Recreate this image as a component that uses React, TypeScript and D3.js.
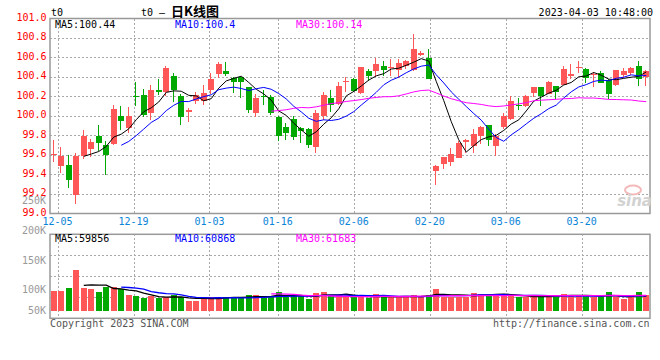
import React, { useEffect, useRef } from 'react';
import * as d3 from 'd3';

// trading days shown on the chart (80 candles)
const dates = [
  '12-02', '12-05', '12-06', '12-07', '12-08', '12-09', '12-12', '12-13', '12-14', '12-15',
  '12-16', '12-19', '12-20', '12-21', '12-22', '12-23', '12-26', '12-27', '12-28', '12-29',
  '12-30', '01-03', '01-04', '01-05', '01-06', '01-09', '01-10', '01-11', '01-12', '01-13',
  '01-16', '01-17', '01-18', '01-19', '01-20', '01-30', '01-31', '02-01', '02-02', '02-03',
  '02-06', '02-07', '02-08', '02-09', '02-10', '02-13', '02-14', '02-15', '02-16', '02-17',
  '02-20', '02-21', '02-22', '02-23', '02-24', '02-27', '02-28', '03-01', '03-02', '03-03',
  '03-06', '03-07', '03-08', '03-09', '03-10', '03-13', '03-14', '03-15', '03-16', '03-17',
  '03-20', '03-21', '03-22', '03-23', '03-24', '03-27', '03-28', '03-29', '03-30', '03-31',
];

const opens = [
  99.60, 99.49, 99.50, 99.19, 99.59, 99.66, 99.80, 99.70, 99.71, 100.00,
  99.88, 100.20, 100.22, 100.03, 100.27, 100.25, 100.41, 100.21, 100.04, 100.15,
  100.15, 100.27, 100.43, 100.46, 100.39, 100.40, 100.30, 100.03, 100.21, 100.19,
  99.99, 99.89, 99.97, 99.88, 99.87, 99.68, 100.00, 100.18, 100.12, 100.35,
  100.38, 100.24, 100.46, 100.46, 100.51, 100.49, 100.47, 100.51, 100.47, 100.63,
  100.60, 99.44, 99.51, 99.53, 99.57, 99.73, 99.69, 99.80, 99.91, 99.69,
  99.89, 99.97, 100.11, 100.10, 100.24, 100.30, 100.23, 100.31, 100.32, 100.41,
  100.49, 100.48, 100.42, 100.44, 100.37, 100.32, 100.42, 100.44, 100.51, 100.40,
];
const highs = [
  99.75, 99.68, 99.60, 99.62, 99.86, 99.76, 99.91, 99.74, 100.11, 100.10,
  100.09, 100.35, 100.28, 100.32, 100.38, 100.51, 100.44, 100.23, 100.08, 100.25,
  100.32, 100.44, 100.55, 100.55, 100.40, 100.40, 100.30, 100.23, 100.27, 100.22,
  100.00, 99.93, 100.00, 99.89, 99.88, 100.06, 100.25, 100.27, 100.35, 100.40,
  100.39, 100.50, 100.48, 100.60, 100.56, 100.58, 100.58, 100.57, 100.84, 100.67,
  100.69, 99.50, 99.58, 99.67, 99.74, 99.76, 99.87, 99.90, 99.91, 99.82,
  100.03, 100.20, 100.18, 100.22, 100.30, 100.30, 100.36, 100.31, 100.51, 100.53,
  100.56, 100.49, 100.45, 100.46, 100.38, 100.47, 100.49, 100.50, 100.56, 100.47,
];
const lows = [
  99.53, 99.42, 99.26, 99.10, 99.56, 99.58, 99.64, 99.39, 99.70, 99.86,
  99.83, 100.10, 99.99, 99.96, 100.22, 100.20, 100.14, 99.91, 99.94, 100.12,
  100.11, 100.23, 100.39, 100.41, 100.24, 100.18, 100.03, 99.99, 100.11, 100.01,
  99.74, 99.75, 99.75, 99.72, 99.67, 99.62, 99.96, 100.04, 100.11, 100.25,
  100.25, 100.23, 100.36, 100.40, 100.41, 100.41, 100.39, 100.48, 100.46, 100.62,
  100.38, 99.29, 99.46, 99.49, 99.57, 99.62, 99.62, 99.71, 99.69, 99.59,
  99.87, 99.96, 100.06, 100.09, 100.19, 100.10, 100.23, 100.17, 100.32, 100.38,
  100.44, 100.34, 100.30, 100.34, 100.17, 100.31, 100.39, 100.42, 100.31, 100.31,
];
const closes = [
  99.61, 99.59, 99.34, 99.59, 99.80, 99.73, 99.72, 99.60, 100.07, 99.95,
  100.00, 100.19, 100.01, 100.27, 100.25, 100.49, 100.27, 99.99, 100.06, 100.22,
  100.24, 100.38, 100.53, 100.43, 100.35, 100.35, 100.06, 100.18, 100.19, 100.03,
  99.80, 99.83, 99.78, 99.85, 99.70, 100.03, 100.22, 100.11, 100.31, 100.36,
  100.26, 100.50, 100.41, 100.53, 100.47, 100.50, 100.54, 100.56, 100.69, 100.65,
  100.38, 99.49, 99.58, 99.61, 99.72, 99.75, 99.82, 99.89, 99.75, 99.80,
  100.00, 100.15, 100.10, 100.21, 100.30, 100.21, 100.35, 100.25, 100.48, 100.43,
  100.50, 100.39, 100.43, 100.34, 100.23, 100.47, 100.46, 100.49, 100.38, 100.46,
];
const volumes = [
  81200, 81200, 93300, 165200, 93300, 89300, 75900, 96000, 96200, 86800,
  63700, 59700, 51500, 59700, 50300, 54400, 62500, 54400, 40600, 40600,
  54400, 54400, 54400, 54400, 54400, 51500, 62500, 62500, 54400, 59700,
  75900, 54400, 59700, 59700, 47500, 71800, 75900, 63700, 63700, 59700,
  54400, 59700, 50300, 67800, 54400, 54400, 56800, 56800, 63700, 56800,
  63700, 88100, 56800, 56800, 56800, 56800, 71800, 67800, 67800, 67800,
  59700, 63700, 54400, 54400, 54400, 59700, 63700, 59700, 67800, 59700,
  59700, 63700, 54400, 54400, 75900, 54400, 47500, 54400, 75900, 63700,
];

const priceTicks = [101.0, 100.8, 100.6, 100.4, 100.2, 100.0, 99.8, 99.6, 99.4, 99.2, 99.0];
const volumeTicks = [250000, 200000, 150000, 100000, 50000];
const dateTicks = ['12-05', '12-19', '01-03', '01-16', '02-06', '02-20', '03-06', '03-20'];
const maPeriods = [5, 10, 30];
const maColors = ['#000000', '#0000ff', '#ff00ff'];
const priceLegend = ['MA5:100.44', 'MA10:100.4', 'MA30:100.14'];
const volumeLegend = ['MA5:59856', 'MA10:60868', 'MA30:61683'];
const symbol = 't0';
const title = '日K线图';
const timestamp = '2023-04-03 10:48:00';

const MONO = "'DejaVu Sans Mono', 'Liberation Mono', monospace";
const UP = '#ff5757';
const DOWN = '#00a800';

function movingAvg(vals: number[], n: number) {
  return vals.map((_, i) => (i < n - 1 ? null : d3.mean(vals.slice(i - n + 1, i + 1)) as number));
}

export default function App() {
  const svgRef = useRef<SVGSVGElement | null>(null);

  useEffect(() => {
    const svg = d3.select(svgRef.current);
    svg.selectAll('*').remove();

    const plotL = 50, plotR = 650;
    const mainTop = 18.5, mainBottom = 213.5;
    const volTop = 234.3, volBottom = 318.3, volBase = 310.7;
    const N = dates.length;

    const xBand = d3.scaleBand<number>().domain(d3.range(N)).range([plotL, plotR])
      .paddingInner(0.2).paddingOuter(0.1);
    const xGrid = d3.scaleLinear().domain([0, N - 1]).range([plotL, plotR]);
    const xMid = (i: number) => (xBand(i) as number) + xBand.bandwidth() / 2;
    const y = d3.scaleLinear().domain([99, 101]).range([mainBottom, mainTop]);
    const yVol = d3.scaleLinear().domain([0, 310000]).range([volBase, volTop]);
    // sina places the volume labels on their own spacing, last one pinned to the base
    const volLabelY = d3.scaleLinear().domain([50000, 250000]).range([323.1, 204.3]);

    const bw = Math.round(xBand.bandwidth());
    const isUp = (i: number) => closes[i] >= opens[i];

    // --- grid ---
    const grid = svg.append('g').attr('stroke', '#aaa').attr('stroke-dasharray', '2,2')
      .attr('shape-rendering', 'crispEdges');
    priceTicks.slice(1, -1).forEach(t => {
      grid.append('line').attr('x1', plotL).attr('x2', plotR).attr('y1', y(t)).attr('y2', y(t));
    });
    d3.range(1, 4).forEach(k => {
      const yy = volTop + (k * (volBottom - volTop)) / 4;
      grid.append('line').attr('x1', plotL).attr('x2', plotR).attr('y1', yy).attr('y2', yy);
    });
    dateTicks.forEach(d => {
      const gx = Math.round(xGrid(dates.indexOf(d))) + 0.5;
      grid.append('line').attr('x1', gx).attr('x2', gx).attr('y1', mainTop).attr('y2', mainBottom);
      grid.append('line').attr('x1', gx).attr('x2', gx).attr('y1', volTop).attr('y2', volBottom);
    });

    // --- panel borders ---
    [[mainTop, mainBottom], [volTop, volBottom]].forEach(([t, b]) => {
      svg.append('rect').attr('x', plotL).attr('y', t).attr('width', plotR - plotL).attr('height', b - t)
        .attr('fill', 'none').attr('stroke', '#999').attr('stroke-width', 1.5);
    });

    // --- watermark ---
    const wm = svg.append('g');
    wm.append('ellipse').attr('cx', 633).attr('cy', 190).attr('rx', 8).attr('ry', 4.5)
      .attr('fill', 'none').attr('stroke', '#f4b8b8').attr('stroke-width', 2);
    wm.append('text').attr('x', 652).attr('y', 206).attr('text-anchor', 'end')
      .attr('font-family', "'DejaVu Sans', sans-serif").attr('font-size', 15)
      .attr('font-style', 'italic').attr('font-weight', 'bold').attr('fill', '#d2d2d2').text('sina');

    // --- candles ---
    const candles = svg.append('g').attr('shape-rendering', 'crispEdges');
    dates.forEach((_, i) => {
      const bx = Math.round(xBand(i) as number);
      const col = isUp(i) ? UP : DOWN;
      const top = Math.round(y(Math.max(opens[i], closes[i])));
      const bot = Math.round(y(Math.min(opens[i], closes[i])));
      candles.append('rect').attr('x', bx + 2).attr('width', 1)
        .attr('y', Math.round(y(highs[i]))).attr('height', Math.max(1, Math.round(y(lows[i])) - Math.round(y(highs[i]))))
        .attr('fill', col);
      candles.append('rect').attr('x', bx).attr('width', bw)
        .attr('y', top).attr('height', Math.max(1, bot - top)).attr('fill', col);
    });

    // --- volume bars ---
    const bars = svg.append('g').attr('shape-rendering', 'crispEdges');
    volumes.forEach((v, i) => {
      const bx = Math.round(xBand(i) as number);
      const top = Math.round(yVol(v));
      bars.append('rect').attr('x', bx).attr('width', bw).attr('y', top)
        .attr('height', Math.round(volBase) - top).attr('fill', isUp(i) ? UP : DOWN);
    });

    // --- moving averages ---
    maPeriods.forEach((p, k) => {
      const priceLine = d3.line<number | null>()
        .defined(d => d != null)
        .x((_, i) => xMid(i))
        .y(d => y(d as number));
      svg.append('path').attr('d', priceLine(movingAvg(closes, p))).attr('fill', 'none')
        .attr('stroke', maColors[k]).attr('stroke-width', 1);
      const volLine = d3.line<number | null>()
        .defined(d => d != null)
        .x((_, i) => xMid(i))
        .y(d => yVol(d as number));
      svg.append('path').attr('d', volLine(movingAvg(volumes, p))).attr('fill', 'none')
        .attr('stroke', maColors[k]).attr('stroke-width', 1.3);
    });

    // --- text ---
    const txt = (x: number, yy: number, s: string, fill: string, anchor = 'start') =>
      svg.append('text').attr('x', x).attr('y', yy).attr('text-anchor', anchor)
        .attr('font-family', MONO).attr('font-size', 10).attr('fill', fill).text(s);

    priceTicks.forEach(t => txt(46.5, y(t) + 2, t.toFixed(1), '#ff0000', 'end'));
    volumeTicks.forEach(v => txt(46, Math.min(volLabelY(v), volBase + 3.3), `${v / 1000}K`, '#999', 'end'));
    dateTicks.forEach(d => txt(xGrid(dates.indexOf(d)), 225, d, '#0a84d6', 'middle'));

    const legendX = [55, 175, 296];
    priceLegend.forEach((s, k) => txt(legendX[k], 27.5, s, maColors[k]));
    volumeLegend.forEach((s, k) => txt(legendX[k], 242.3, s, maColors[k]));

    txt(51, 15.5, symbol, '#000');
    const head = txt(141, 15.5, `${symbol} – `, '#000');
    head.append('tspan').attr('font-family', "'Noto Sans CJK SC', sans-serif").attr('font-size', 13)
      .attr('font-weight', 'bold').text(title);
    txt(653, 15.5, timestamp, '#000', 'end');

    txt(50, 327, 'Copyright 2023 SINA.COM', '#555');
    txt(649.5, 327, 'http://finance.sina.com.cn', '#555', 'end');
  }, []);

  return (
    <div style={{ position: 'absolute', left: 0, top: 0 }}>
      <svg ref={svgRef} width={660} height={360} style={{ display: 'block', background: '#fff' }} />
    </div>
  );
}
